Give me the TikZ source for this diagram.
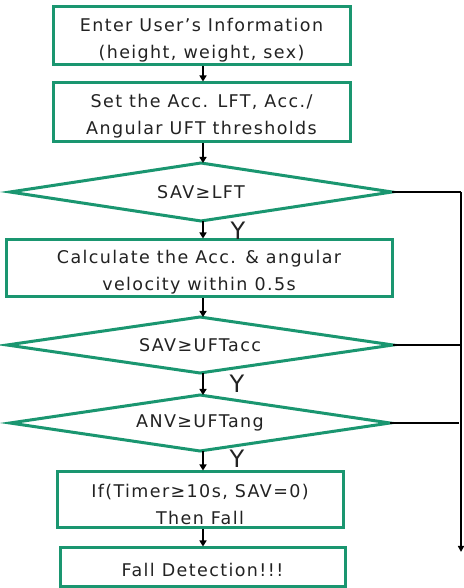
\documentclass[tikz,border=0pt]{standalone}
\usepackage{fontspec}
\setmainfont{DejaVu Sans}[LetterSpace=8]
\usetikzlibrary{arrows.meta}
\definecolor{flowgreen}{HTML}{1A9670}
\definecolor{inkgray}{HTML}{222222}
\begin{document}
\begin{tikzpicture}[x=1pt,y=1pt,
  every node/.style={text=inkgray,font=\fontsize{17.5}{27}\selectfont},
  procbox/.style={draw=flowgreen,line width=3pt,rectangle,inner sep=0pt},
  boxtext/.style={align=center,inner sep=0pt},
  decisionedge/.style={draw=flowgreen,line width=3pt,line join=miter},
  flowarrow/.style={draw=black,line width=2pt,-{Triangle[length=6pt,width=7pt]}},
  sideline/.style={draw=black,line width=1.5pt},
  yeslabel/.style={font=\fontsize{24}{24}\selectfont}]
\useasboundingbox (0,0) rectangle (463,588);
\fill[white] (0,0) rectangle (463,588);

% a process box: name, centre x, centre y, width, height, text
\newcommand{\processnode}[6]{%
  \node[procbox,minimum width=#4,minimum height=#5] (#1) at (#2,#3) {};
  \node[boxtext] (#1-text) at ([yshift=-4pt]#1.center) {#6};}

% a decision diamond: name, centre x, centre y, half width, half height, text
\newcommand{\decisionnode}[6]{%
  \coordinate (#1-n) at (#2,#3+#5);
  \coordinate (#1-s) at (#2,#3-#5);
  \coordinate (#1-e) at (#2+#4,#3);
  \coordinate (#1-w) at (#2-#4,#3);
  \draw[decisionedge] (#1-n) -- (#1-e) -- (#1-s) -- (#1-w) -- cycle;
  \node (#1) at (#2,#3) {#6};}

% process boxes and decisions
\processnode{info}{201.5}{552}{297}{58}{Enter User's Information\\(height, weight, sex)}
\processnode{thr}{201.5}{475.5}{297}{59}{Set the Acc. LFT, Acc./\\Angular UFT thresholds}
\decisionnode{lft}{201}{396}{191}{29}{SAV≥LFT}
\processnode{calc}{199}{319.5}{386}{57}{Calculate the Acc. \& angular\\velocity within 0.5s}
\decisionnode{ufta}{200}{243}{193}{28}{SAV≥UFTacc}
\decisionnode{uftg}{200}{165}{190}{28}{ANV≥UFTang}
\processnode{timer}{200}{88}{286}{56}{If(Timer≥10s, SAV=0)\\Then Fall}
\node[procbox,minimum width=285,minimum height=39] (fall) at (202.5,20.5) {};
\node[boxtext] (fall-text) at ([yshift=-2pt]fall.center) {Fall Detection!!!};

% main column of arrows
\coordinate (col) at (203,0);
\draw[flowarrow] (info.south -| col) -- (thr.north -| col);
\draw[flowarrow] (thr.south -| col) -- (lft-n -| col);
\draw[flowarrow] (lft-s -| col) -- (calc.north -| col);
\draw[flowarrow] (calc.south -| col) -- (ufta-n -| col);
\draw[flowarrow] (ufta-s -| col) -- (uftg-n -| col);
\draw[flowarrow] (uftg-s -| col) -- (timer.north -| col);
\draw[flowarrow] (timer.south -| col) -- (fall.north -| col);

% yes labels
\node[yeslabel] (y1) at (238,357) {Y};
\node[yeslabel] (y2) at (237,204) {Y};
\node[yeslabel] (y3) at (237,129) {Y};

% "no" branches joining the right-hand return line
\coordinate (railtop) at (461,396);
\coordinate (railend) at (461,36);
\draw[sideline] (lft-e) -- (railtop);
\draw[sideline] (ufta-e) -- (ufta-e -| railtop);
\draw[sideline] (uftg-e) -- (459,165);
\draw[sideline,-{Triangle[length=6pt,width=6pt]}] (railtop) -- (railend);
\end{tikzpicture}
\end{document}
